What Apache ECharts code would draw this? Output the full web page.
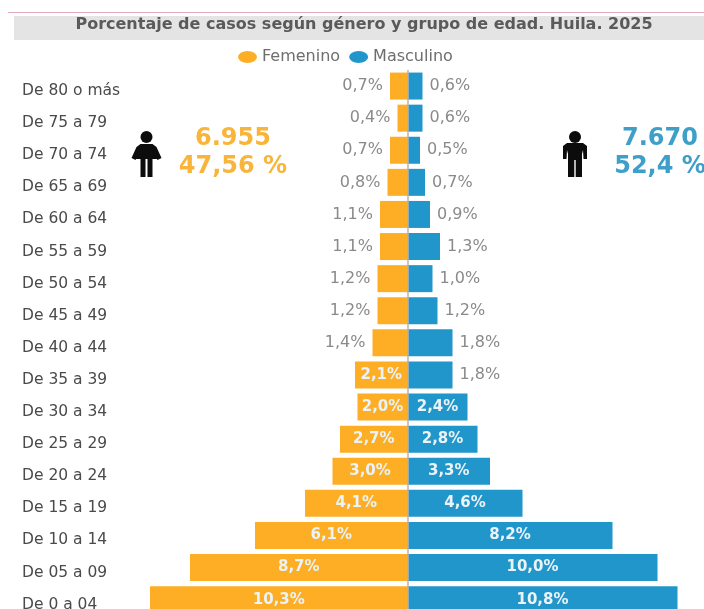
<!DOCTYPE html>
<html lang="es">
<head>
<meta charset="utf-8">
<title>Porcentaje de casos según género y grupo de edad</title>
<script src="https://cdn.jsdelivr.net/npm/echarts@6/dist/echarts.min.js"></script>
<style>
  html, body { margin: 0; padding: 0; background: #fff; overflow: hidden; }
  #chart { width: 704px; height: 609px; }
</style>
</head>
<body>
<div id="chart"></div>
<script>
// Grupos de edad, de mayor a menor
const ageGroups = ['De 80 o más','De 75 a 79','De 70 a 74','De 65 a 69','De 60 a 64','De 55 a 59','De 50 a 54','De 45 a 49','De 40 a 44','De 35 a 39','De 30 a 34','De 25 a 29','De 20 a 24','De 15 a 19','De 10 a 14','De 05 a 09','De 0 a 04'];
const femenino = [0.7,0.4,0.7,0.8,1.1,1.1,1.2,1.2,1.4,2.1,2.0,2.7,3.0,4.1,6.1,8.7,10.3];
const masculino = [0.6,0.6,0.5,0.7,0.9,1.3,1.0,1.2,1.8,1.8,2.4,2.8,3.3,4.6,8.2,10.0,10.8];

const ORANGE = '#FEAE25';
const BLUE = '#2196CB';
const FONT = '"DejaVu Sans", sans-serif';
const INSIDE_FROM = 2.0; // a partir de este valor la etiqueta va dentro de la barra

const pct = v => Math.abs(v).toFixed(1).replace('.', ',') + '%';

// Punto de datos con su etiqueta, dentro o fuera de la barra según el tamaño
function point(value, sign) {
  const inside = value >= INSIDE_FROM;
  return {
    value: sign * value,
    label: {
      position: inside ? 'inside' : (sign < 0 ? 'left' : 'right'),
      color: inside ? '#EAF3F8' : '#8a8a8a',
      fontSize: inside ? 15 : 16,
      fontWeight: inside ? 'bold' : 'normal',
      distance: 7
    }
  };
}

function barSeries(name, color, values, sign) {
  return {
    name, type: 'bar', stack: 'piramide', barWidth: 27, itemStyle: { color },
    label: { show: true, fontFamily: FONT, formatter: p => pct(p.value) },
    data: values.map(v => point(v, sign))
  };
}

// Silueta de persona: cabeza y cuerpo
function figure(x, y, bodyPoints) {
  return {
    type: 'group', x, y,
    children: [
      { type: 'circle', shape: { cx: 0, cy: 7, r: 6 }, style: { fill: '#0c0c0c' } },
      { type: 'polygon', shape: { points: bodyPoints }, style: { fill: '#0c0c0c' } }
    ]
  };
}
const womanBody = [[-6,14],[6,14],[10,17],[15,28],[11,30],[8,24],[12,29],[6,29],[6,47],[1,47],[1,29],[-1,29],[-1,47],[-6,47],[-6,29],[-12,29],[-8,24],[-11,30],[-15,28],[-10,17]];
const manBody = [[-8,13],[8,13],[12,16],[12,29],[8.5,29],[8,20],[7,24],[7,47],[0.7,47],[0.7,30],[-0.7,30],[-0.7,47],[-7,47],[-7,24],[-8,20],[-8.5,29],[-12,29],[-12,16]];

function bigText(x, y, text, fill) {
  return { type: 'text', x, y, style: { text, fill, font: 'bold 24px ' + FONT, align: 'center', verticalAlign: 'middle' } };
}

const chart = echarts.init(document.getElementById('chart'), null, { renderer: 'canvas' });
chart.setOption({
  animation: false,
  backgroundColor: '#fff',
  legend: {
    top: 49, left: 238, padding: 0, itemWidth: 19, itemHeight: 12, itemGap: 9,
    symbolKeepAspect: false,
    icon: 'path://M0 5a10 5 0 1 0 20 0a10 5 0 1 0-20 0z',
    textStyle: { fontFamily: FONT, fontSize: 16, color: '#6e6e6e' },
    data: ['Femenino', 'Masculino']
  },
  grid: { left: 22, top: 70, width: 682, height: 545.7, outerBoundsMode: 'none' },
  xAxis: { type: 'value', min: -15.42, max: 11.86, show: false },
  yAxis: {
    type: 'category', inverse: true, data: ageGroups,
    axisLine: { show: false }, axisTick: { show: false },
    axisLabel: {
      inside: true, margin: 0, align: 'left', color: '#4a4a4a',
      fontFamily: FONT, fontSize: 15.5, verticalAlign: 'top', lineHeight: 10, interval: 0
    }
  },
  series: [
    barSeries('Femenino', ORANGE, femenino, -1),
    Object.assign(barSeries('Masculino', BLUE, masculino, 1), {
      markLine: {
        silent: true, symbol: 'none', label: { show: false },
        lineStyle: { color: '#b4b4b4', width: 1.5, type: 'solid' },
        data: [{ xAxis: 0 }]
      }
    })
  ],
  graphic: [
    { type: 'rect', shape: { x: 8, y: 12, width: 696, height: 1 }, style: { fill: '#E3A9BE' } },
    { type: 'rect', shape: { x: 14, y: 16, width: 690, height: 24 }, style: { fill: '#E4E4E4' } },
    { type: 'text', x: 364, y: 25, style: { text: 'Porcentaje de casos según género y grupo de edad. Huila. 2025', fill: '#5a5a5a', font: 'bold 16px ' + FONT, align: 'center', verticalAlign: 'middle' } },
    figure(146.5, 130, womanBody),
    figure(575, 130, manBody),
    bigText(233, 139, '6.955', '#F9B53A'),
    bigText(233, 167, '47,56 %', '#F9B53A'),
    bigText(660, 139, '7.670', '#3E9FC9'),
    bigText(660, 167, '52,4 %', '#3E9FC9')
  ]
});
</script>
</body>
</html>
